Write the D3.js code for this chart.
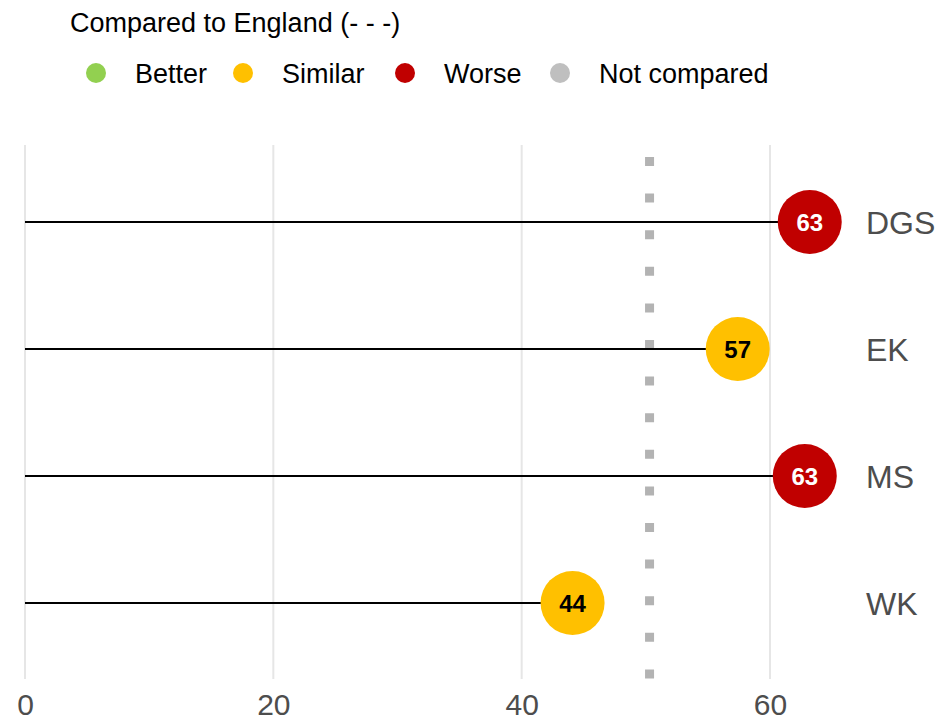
<!DOCTYPE html>
<html>
<head>
<meta charset="utf-8">
<script src="https://cdn.jsdelivr.net/npm/d3@7"></script>
<style>
  body { margin: 0; background: #fff; }
  svg text { font-family: "Liberation Sans", Arial, sans-serif; }
</style>
</head>
<body>
<div id="chart"></div>
<script>
var areas = ["DGS", "EK", "MS", "WK"];
var values = [63.2, 57.4, 62.8, 44.1];
var comparison = ["Worse", "Similar", "Worse", "Similar"];
var englandValue = 50.3;
var xTicks = [0, 20, 40, 60];
var legendLabels = ["Better", "Similar", "Worse", "Not compared"];
var legendColors = ["#92d050", "#ffc000", "#c00000", "#bfbfbf"];

var width = 938, height = 723;
var colour = d3.scaleOrdinal().domain(legendLabels).range(legendColors);

var svg = d3.select("#chart").append("svg")
    .attr("width", width)
    .attr("height", height);

// x scale: 0 at 25px, 60 at 770px
var x = d3.scaleLinear().domain([0, 60]).range([25, 770]);
var y = d3.scalePoint().domain(areas).range([222, 603]);

// gridlines
svg.append("g").selectAll("line")
    .data(xTicks)
    .enter().append("line")
    .attr("x1", d => x(d)).attr("x2", d => x(d))
    .attr("y1", 145).attr("y2", 679)
    .attr("stroke", "#e6e6e6")
    .attr("stroke-width", 2);

// axis tick labels
var xAxis = d3.axisBottom(x).tickValues(xTicks).tickSize(0).tickPadding(0);
var gx = svg.append("g")
    .attr("transform", "translate(0,694)")
    .call(xAxis);
gx.select(".domain").remove();
gx.selectAll("text")
    .attr("fill", "#4d4d4d")
    .style("font-size", "30px");

// England reference line
svg.append("line")
    .attr("x1", x(englandValue)).attr("x2", x(englandValue))
    .attr("y1", 157).attr("y2", 680)
    .attr("stroke", "#b3b3b3")
    .attr("stroke-width", 9)
    .attr("stroke-dasharray", "9,27.6");

// stems
svg.append("g").selectAll("line")
    .data(values)
    .enter().append("line")
    .attr("x1", x(0))
    .attr("x2", d => x(d))
    .attr("y1", (d, i) => y(areas[i]))
    .attr("y2", (d, i) => y(areas[i]))
    .attr("stroke", "#000")
    .attr("stroke-width", 2.2);

// dots
svg.append("g").selectAll("circle")
    .data(values)
    .enter().append("circle")
    .attr("cx", d => x(d))
    .attr("cy", (d, i) => y(areas[i]))
    .attr("r", 32)
    .attr("fill", (d, i) => colour(comparison[i]));

// values in dots
svg.append("g").selectAll("text")
    .data(values)
    .enter().append("text")
    .attr("x", d => x(d))
    .attr("y", (d, i) => y(areas[i]))
    .attr("dy", "0.36em")
    .attr("text-anchor", "middle")
    .attr("font-weight", "bold")
    .style("font-size", "24px")
    .attr("fill", (d, i) => comparison[i] == "Worse" ? "#fff" : "#000")
    .text(d => Math.round(d));

// area labels
svg.append("g").selectAll("text")
    .data(areas)
    .enter().append("text")
    .attr("x", 866)
    .attr("y", d => y(d))
    .attr("dy", "0.36em")
    .attr("fill", "#4d4d4d")
    .style("font-size", "32px")
    .text(d => d);

// legend
svg.append("text")
    .attr("x", 70).attr("y", 32)
    .style("font-size", "27px")
    .attr("fill", "#000")
    .text("Compared to England (- - -)");

var legendX = [96, 243, 405, 560];
var legend = svg.append("g").selectAll("g")
    .data(legendLabels)
    .enter().append("g")
    .attr("transform", (d, i) => "translate(" + legendX[i] + ",73)");
legend.append("circle")
    .attr("r", 10)
    .attr("fill", d => colour(d));
legend.append("text")
    .attr("x", 39)
    .attr("dy", "0.36em")
    .style("font-size", "27px")
    .attr("fill", "#000")
    .text(d => d);
</script>
</body>
</html>
